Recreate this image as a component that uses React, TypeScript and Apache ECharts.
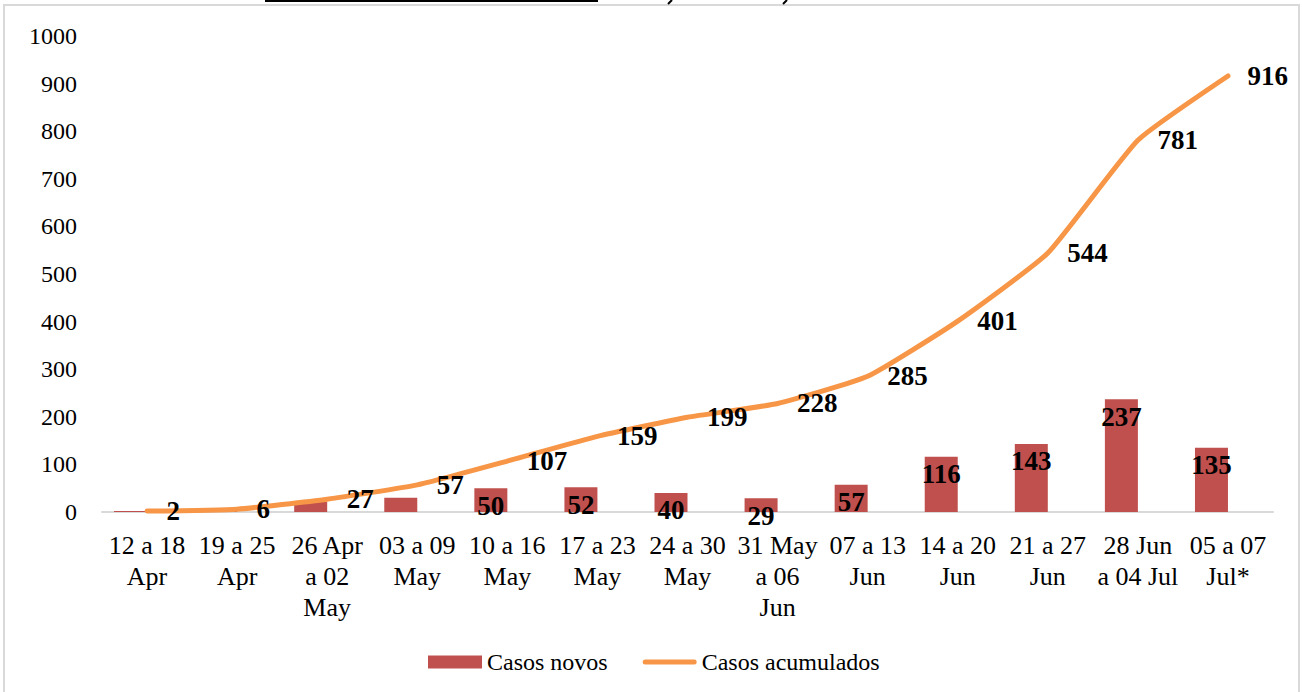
import React, { useEffect, useRef } from "react";
import * as echarts from "echarts";

const categories = [
  "12 a 18\nApr",
  "19 a 25\nApr",
  "26 Apr\na 02\nMay",
  "03 a 09\nMay",
  "10 a 16\nMay",
  "17 a 23\nMay",
  "24 a 30\nMay",
  "31 May\na 06\nJun",
  "07 a 13\nJun",
  "14 a 20\nJun",
  "21 a 27\nJun",
  "28 Jun\na 04 Jul",
  "05 a 07\nJul*",
];
const newCases = [2, 4, 21, 30, 50, 52, 40, 29, 57, 116, 143, 237, 135];
const cumulativeCases = [2, 6, 27, 57, 107, 159, 199, 228, 285, 401, 544, 781, 916];
const hiddenBarLabels = [0, 1, 2, 3];
const yTicks = { min: 0, max: 1000, interval: 100 };

const FONT = "Liberation Serif";
const BAR_COLOR = "#c0504d";
const LINE_COLOR = "#f79646";

export default function App() {
  const ref = useRef<HTMLDivElement>(null);
  useEffect(() => {
    if (!ref.current) return;
    const chart = echarts.init(ref.current, null, { renderer: "svg" });
    chart.setOption({
      animation: false,
      backgroundColor: "#ffffff",
      textStyle: { fontFamily: FONT, color: "#000" },
      graphic: [
        {
          type: "rect",
          silent: true,
          shape: { x: 4, y: 5, width: 1295, height: 700 },
          style: { fill: "none", stroke: "#d9d9d9", lineWidth: 2 },
        },
        {
          type: "rect",
          silent: true,
          shape: { x: 265, y: 0, width: 333, height: 2 },
          style: { fill: "#000" },
        },
        {
          type: "line",
          silent: true,
          shape: { x1: 672, y1: 0, x2: 668, y2: 4 },
          style: { stroke: "#000", lineWidth: 2 },
        },
        {
          type: "line",
          silent: true,
          shape: { x1: 787, y1: 0, x2: 783, y2: 4 },
          style: { stroke: "#000", lineWidth: 2 },
        },
      ],
      grid: { left: 102, right: 29, top: 36, bottom: 180, containLabel: false },
      legend: {
        data: [
          { name: "Casos novos", icon: "rect", itemStyle: { color: BAR_COLOR } },
          {
            name: "Casos acumulados",
            icon: "path://M2.5,0 L51.5,0 A2.5,2.5 0 0 1 51.5,5 L2.5,5 A2.5,2.5 0 0 1 2.5,0 Z",
            itemStyle: { color: LINE_COLOR, opacity: 1 },
          },
        ],
        left: 423,
        top: 645,
        itemWidth: 54,
        itemHeight: 13,
        itemGap: 35,
        textStyle: { fontFamily: FONT, fontSize: 24, color: "#000" },
      },
      xAxis: {
        type: "category",
        data: categories,
        axisLine: { show: true, lineStyle: { color: "#d9d9d9", width: 2 } },
        axisTick: { show: false },
        axisLabel: {
          interval: 0,
          margin: 18,
          fontFamily: FONT,
          fontSize: 26,
          lineHeight: 31,
          color: "#000",
        },
      },
      yAxis: {
        type: "value",
        min: yTicks.min,
        max: yTicks.max,
        interval: yTicks.interval,
        axisLine: { show: false },
        axisTick: { show: false },
        splitLine: { show: false },
        axisLabel: {
          margin: 25,
          fontFamily: FONT,
          fontSize: 24,
          color: "#000",
          formatter: (v: number) => String(v),
        },
      },
      series: [
        {
          name: "Casos novos",
          type: "bar",
          barWidth: 33,
          barGap: "0%",
          itemStyle: { color: BAR_COLOR },
          data: newCases.map((v, i) =>
            hiddenBarLabels.includes(i) ? { value: v, label: { show: false } } : v
          ),
          label: {
            show: true,
            position: "insideTop",
            distance: 4,
            fontFamily: FONT,
            fontSize: 27,
            fontWeight: "bold",
            color: "#000",
          },
          z: 2,
        },
        {
          name: "spacer",
          type: "bar",
          barWidth: 33,
          barGap: "0%",
          data: newCases.map(() => null),
          itemStyle: { color: "transparent" },
          silent: true,
        },
        {
          name: "Casos acumulados",
          type: "line",
          data: cumulativeCases,
          smooth: 0.15,
          symbol: "circle",
          symbolSize: 1,
          showSymbol: true,
          lineStyle: { color: LINE_COLOR, width: 5, cap: "round" },
          itemStyle: { color: "transparent" },
          label: {
            show: true,
            position: "right",
            distance: 19,
            fontFamily: FONT,
            fontSize: 27,
            fontWeight: "bold",
            color: "#000",
          },
          z: 3,
        },
      ],
    });
    return () => chart.dispose();
  }, []);
  return (
    <div
      ref={ref}
      style={{ position: "fixed", left: 0, top: 0, width: 1302, height: 692 }}
    />
  );
}
